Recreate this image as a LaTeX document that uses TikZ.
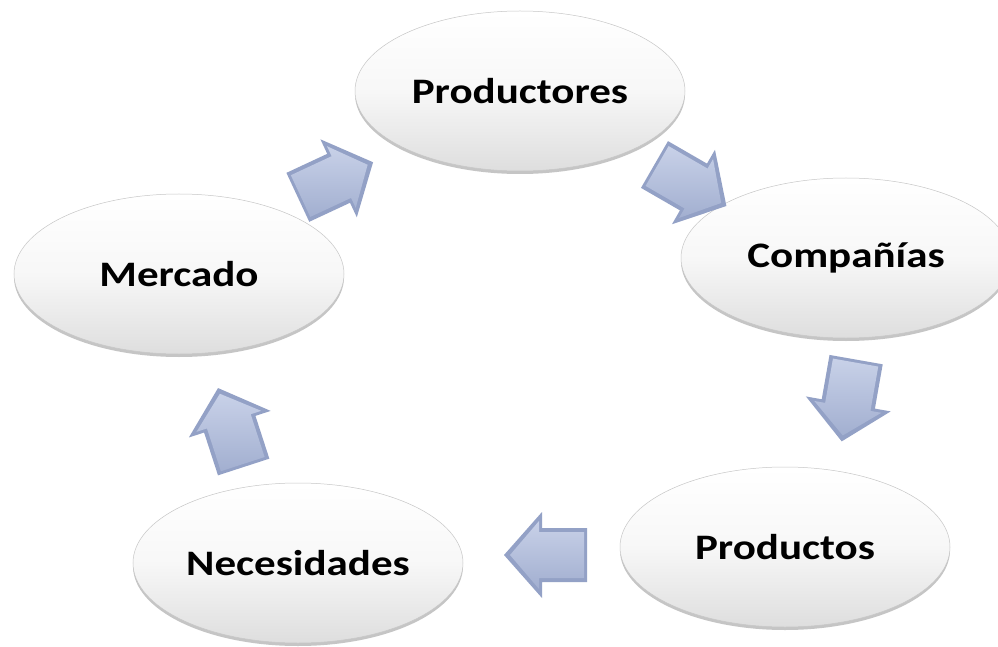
\documentclass[tikz,border=0pt]{standalone}
\usepackage{fontspec}
\newfontfamily\lblfont{Carlito}[FakeStretch=1.2]
\usetikzlibrary{shapes.geometric,shadows}
\definecolor{arredge}{HTML}{93A1C6}
\definecolor{arrlight}{HTML}{C8D1E8}
\definecolor{arrdark}{HTML}{A2AFD0}
\tikzset{
  ell/.style={ellipse, minimum width=330bp, minimum height=160bp, inner sep=0pt,
    top color=white, bottom color=black!13, middle color=white!97!black, draw=black!22, line width=0.5bp,
    drop shadow={shadow xshift=0bp, shadow yshift=-3bp, fill=black!45, opacity=0.5},
    font=\lblfont\bfseries\fontsize{36}{40}\selectfont, text=black},
  arrowbody/.style={fill=arredge},
  arrowface/.style={top color=arrlight, bottom color=arrdark},
  barrow/.pic={
    \path[arrowbody] (-41,-27) -- (4,-27) -- (4,-43) -- (42,0) -- (4,43) -- (4,27) -- (-41,27) -- cycle;
    \path[arrowface] (-38,-23) -- (7,-23) -- (7,-34) -- (36,0) -- (7,34) -- (7,23) -- (-38,23) -- cycle;
  }
}
\begin{document}
\begin{tikzpicture}[x=1bp, y=-1bp]
  \useasboundingbox[fill=white] (0,0) rectangle (998,647);
  \node[ell] (prod)  at (520,91)  {Productores};
  \node[ell] (comp)  at (846,258) {Compañías};
  \node[ell] (merc)  at (179,274) {Mercado};
  \node[ell] (prods) at (785,547) {Productos};
  \node[ell] (nec)   at (298,563) {Necesidades};
  \pic[rotate=25]   at (335,180) {barrow};
  \pic[rotate=-30]  at (690,185) {barrow};
  \pic[rotate=-100] at (849,400) {barrow};
  \pic[rotate=180]  at (546,555) {barrow};
  \pic[rotate=108]  at (231,428) {barrow};
\end{tikzpicture}
\end{document}
